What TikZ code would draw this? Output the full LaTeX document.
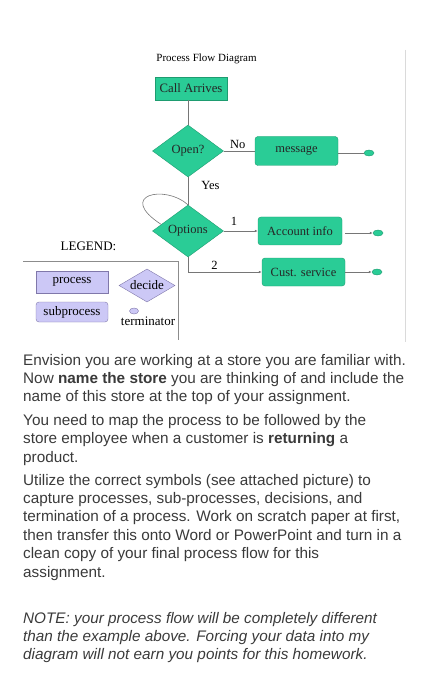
\documentclass[tikz,border=0pt]{standalone}
\usepackage{fontspec}
\setmainfont{Liberation Serif}
\newfontfamily\notefont{Liberation Sans}
\usetikzlibrary{arrows.meta,calc,positioning,shapes.geometric}
\definecolor{flowgreen}{RGB}{42,204,150}
\definecolor{flowedge}{RGB}{30,156,112}
\definecolor{lavender}{RGB}{204,200,246}
\definecolor{lavedge}{RGB}{128,120,170}
\definecolor{wire}{RGB}{118,118,118}
\definecolor{inktext}{RGB}{58,58,58}
\definecolor{pagerule}{RGB}{218,218,218}

\begin{document}
\begin{tikzpicture}[x=1pt,y=-1pt,>={Latex[length=3pt,width=2.6pt]},
  every node/.style={inner sep=0pt,font=\fontsize{12.5}{14}\selectfont},
  greenbox/.style={draw=flowedge,fill=flowgreen,text=black!85,minimum width=84pt,minimum height=28pt,rounded corners=3pt},
  greendiamond/.style={diamond,draw=flowedge,fill=flowgreen,text=black!85,minimum width=71pt,minimum height=52pt,aspect=1.4},
  terminal/.style={ellipse,draw=flowedge,fill=flowgreen,minimum width=10pt,minimum height=6pt},
  lavbox/.style={draw=lavedge,fill=lavender,minimum width=72pt,minimum height=22pt,font=\fontsize{13}{15}\selectfont},
  wire/.style={draw=wire,line width=0.6pt},
  bodytext/.style={anchor=base west,align=left,text=inktext,font=\notefont\fontsize{15.3}{18.4}\selectfont}]
\useasboundingbox (0,0) rectangle (429,700);

% flow chart
\node[font=\fontsize{11}{13}\selectfont] (title) at (206.5,59) {Process Flow Diagram};
\node[greenbox,rounded corners=0pt,minimum width=72pt,minimum height=23pt,font=\fontsize{12.8}{14}\selectfont] (call) at (191,88.5) {Call Arrives};
\node[greendiamond] (open) at (188,151) {Open?};
\node[greenbox,minimum width=83pt,minimum height=29pt] (msg) at (296.5,151) {message};
\node[terminal] (endmsg) at (369,153) {};
\node[greendiamond] (opt) at (188,231) {Options};
\node[greenbox] (acct) at (300,231) {Account info};
\node[terminal] (endacct) at (378,233) {};
\node[greenbox,minimum width=83pt] (cust) at (303.5,272) {Cust. service};
\node[terminal] (endcust) at (377,272) {};

\draw[wire] (call.south -| open.north) -- (open.north);
\draw[wire] (open.east) -- node[above=2pt,pos=0.45] {No} (msg.west);
\draw[wire] (msg.east |- endmsg) -- (endmsg.west);
\draw[wire] (open.south) -- node[right=13pt,pos=0.3] {Yes} (opt.north);
\coordinate (loopend) at ($(opt.west)!0.25!(opt.north)$);
\draw[wire] (opt.north) .. controls (165,184) and (116,195) .. (loopend);
\draw[wire,->] (opt.east) -- node[above=5pt,pos=0.3] {1} (acct.west);
\draw[wire,->,shorten <=3pt] (acct.east |- endacct) -- (endacct.west);
\draw[wire,->] (opt.south) |- node[above=2pt,pos=0.68] {2} (cust.west);
\draw[wire,->] (cust.east) -- (endcust.west);

% legend
\node[font=\fontsize{13}{15}\selectfont] (legend) at (88.5,246) {LEGEND:};
\coordinate (lgleft) at (23,261);
\coordinate (lgcorner) at (178,261);
\coordinate (lgbottom) at (178,340);
\draw[draw=black!45,line width=0.6pt] (lgleft) -- (lgcorner) -- (lgbottom);
\node[lavbox] (proc) at (72,282) {process};
\node[lavbox,rounded corners=3pt,minimum height=20pt] (subproc) at (72,312) {subprocess};
\node[diamond,draw=lavedge,fill=lavender,minimum width=56pt,minimum height=33pt,aspect=1.7,font=\fontsize{13}{15}\selectfont] (dec) at (147,285.5) {decide};
\node[ellipse,draw=lavedge,fill=lavender,minimum width=9pt,minimum height=6pt] (term) at (134,311) {};
\node[font=\fontsize{13}{15}\selectfont] (termlabel) at (148,321.5) {terminator};

% page rule
\coordinate (ruletop) at (405.5,50);
\coordinate (rulebot) at (405.5,342);
\draw[pagerule,line width=0.8pt] (ruletop) -- (rulebot);

% assignment text (anchored at the baseline of the last line)
\node[bodytext] (para1) at (23,401.8) {Envision you are working at a store you are familiar with.\\
  Now \textbf{name the store} you are thinking of and include the\\
  name of this store at the top of your assignment.};
\node[bodytext] (para2) at (23,462) {You need to map the process to be followed by the\\
  store employee when a customer is \textbf{returning} a\\
  product.};
\node[bodytext] (para3) at (23,577) {Utilize the correct symbols (see attached picture) to\\
  capture processes, sub-processes, decisions, and\\
  termination of a process. Work on scratch paper at first,\\
  then transfer this onto Word or PowerPoint and turn in a\\
  clean copy of your final process flow for this\\
  assignment.};
\node[bodytext,font=\notefont\itshape\fontsize{15.3}{18.4}\selectfont] (note) at (23,659.8) {NOTE: your process flow will be completely different\\
  than the example above. Forcing your data into my\\
  diagram will not earn you points for this homework.};
\end{tikzpicture}
\end{document}
